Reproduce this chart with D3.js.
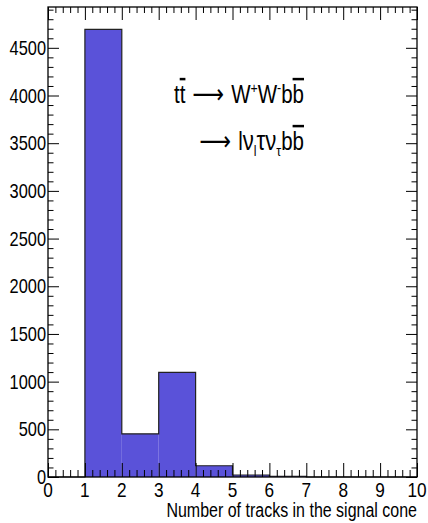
<!DOCTYPE html>
<html>
<head>
<meta charset="utf-8">
<script src="https://cdn.jsdelivr.net/npm/d3@7"></script>
<style>
  body { margin: 0; background: #fff; }
  text { font-family: "Liberation Sans", Arial, sans-serif; }
</style>
</head>
<body>
<div id="chart"></div>
<script>
// bin edges and entries per bin
var binEdges = [0, 1, 2, 3, 4, 5, 6, 7, 8, 9, 10];
var counts = [0, 4693, 453, 1096, 118, 21, 8, 0, 0, 0];
var xTicks = [0, 1, 2, 3, 4, 5, 6, 7, 8, 9, 10];
var yTicks = [0, 500, 1000, 1500, 2000, 2500, 3000, 3500, 4000, 4500];
var xTitle = "Number of tracks in the signal cone";

var width = 428, height = 523;
var padL = 48, padR = 417, padT = 7, padB = 477;
var squeeze = 0.82; // narrow helvetica look

var svg = d3.select('#chart').append('svg')
  .attr('width', width)
  .attr('height', height);

var x = d3.scaleLinear().domain([0, 10]).range([padL, padR]);
var y = d3.scaleLinear().domain([0, 4928]).range([padB, padT]);

// narrow text: place with translate, squeeze horizontally
function narrowText(g, px, py, size, anchor) {
  return g.append('text')
    .attr('transform', 'translate(' + px + ',' + py + ') scale(' + squeeze + ',1)')
    .attr('text-anchor', anchor)
    .attr('font-size', size);
}

// filled bins
var bins = counts.map(function(c, i) { return { x0: binEdges[i], x1: binEdges[i + 1], v: c }; });
svg.append('g').selectAll('rect')
  .data(bins.filter(function(b) { return b.v > 0; }))
  .enter().append('rect')
  .attr('x', function(b) { return x(b.x0); })
  .attr('width', function(b) { return x(b.x1) - x(b.x0); })
  .attr('y', function(b) { return y(b.v); })
  .attr('height', function(b) { return y(0) - y(b.v); })
  .attr('fill', '#5a52d9');

// histogram outline as a step line
var pts = [[binEdges[0], 0]];
bins.forEach(function(b) { pts.push([b.x0, b.v]); pts.push([b.x1, b.v]); });
pts.push([binEdges[binEdges.length - 1], 0]);
svg.append('path')
  .attr('d', d3.line().x(function(p) { return x(p[0]); }).y(function(p) { return y(p[1]); })(pts))
  .attr('fill', 'none')
  .attr('stroke', '#222')
  .attr('stroke-width', 1.2);

// minor ticks
var xMinor = d3.range(0, 10.001, 0.2).filter(function(v) { return Math.abs(v - Math.round(v)) > 1e-6; });
var yMinor = d3.range(0, 4901, 100).filter(function(v) { return v % 500 !== 0; });

function tickAxis(axis, tr) {
  var g = svg.append('g').attr('transform', tr).call(axis);
  g.select('.domain').remove();
  g.selectAll('line').attr('stroke', '#000');
  return g;
}

// left
tickAxis(d3.axisRight(y).tickValues(yTicks).tickSize(11).tickFormat(''), 'translate(' + padL + ',0)');
tickAxis(d3.axisRight(y).tickValues(yMinor).tickSize(5.5).tickFormat(''), 'translate(' + padL + ',0)');
// right
tickAxis(d3.axisLeft(y).tickValues(yTicks).tickSize(11).tickFormat(''), 'translate(' + padR + ',0)');
tickAxis(d3.axisLeft(y).tickValues(yMinor).tickSize(5.5).tickFormat(''), 'translate(' + padR + ',0)');
// bottom
tickAxis(d3.axisTop(x).tickValues(xTicks).tickSize(14).tickFormat(''), 'translate(0,' + padB + ')');
tickAxis(d3.axisTop(x).tickValues(xMinor).tickSize(7).tickFormat(''), 'translate(0,' + padB + ')');
// top
tickAxis(d3.axisBottom(x).tickValues(xTicks).tickSize(13).tickFormat(''), 'translate(0,' + padT + ')');
tickAxis(d3.axisBottom(x).tickValues(xMinor).tickSize(6).tickFormat(''), 'translate(0,' + padT + ')');

// frame
svg.append('rect')
  .attr('x', padL).attr('y', padT)
  .attr('width', padR - padL).attr('height', padB - padT)
  .attr('fill', 'none').attr('stroke', '#000').attr('stroke-width', 1.3);

// tick labels
var ylab = svg.append('g');
yTicks.forEach(function(d) {
  narrowText(ylab, padL - 2, y(d) + 7, 20, 'end').text(d);
});
var xlab = svg.append('g');
xTicks.forEach(function(d) {
  narrowText(xlab, x(d), padB + 20, 21, 'middle').text(d);
});

narrowText(svg, padR, 517, 19.5, 'end').text(xTitle);

// process annotation
var l1 = narrowText(svg, 304, 103, 25, 'end');
l1.append('tspan').text('t');
l1.append('tspan').attr('text-decoration', 'overline').text('t');
l1.append('tspan').attr('font-family', 'DejaVu Sans').attr('font-size', 27).text(' \u27f6 ');
l1.append('tspan').text('W');
l1.append('tspan').attr('dy', -10).attr('font-size', 15).text('+');
l1.append('tspan').attr('dy', 10).text('W');
l1.append('tspan').attr('dy', -10).attr('font-size', 15).text('-');
l1.append('tspan').attr('dy', 10).text('b');
l1.append('tspan').attr('text-decoration', 'overline').text('b');

var l2 = narrowText(svg, 304, 150, 25, 'end');
l2.append('tspan').attr('font-family', 'DejaVu Sans').attr('font-size', 27).text('\u27f6 ');
l2.append('tspan').text('l');
l2.append('tspan').attr('font-size', 27).text('\u03bd');
l2.append('tspan').attr('dy', 6).attr('font-size', 15).text('l');
l2.append('tspan').attr('dy', -6).attr('font-size', 27).text('\u03c4\u03bd');
l2.append('tspan').attr('dy', 6).attr('font-size', 15).text('\u03c4');
l2.append('tspan').attr('dy', -6).text('b');
l2.append('tspan').attr('text-decoration', 'overline').text('b');
</script>
</body>
</html>
